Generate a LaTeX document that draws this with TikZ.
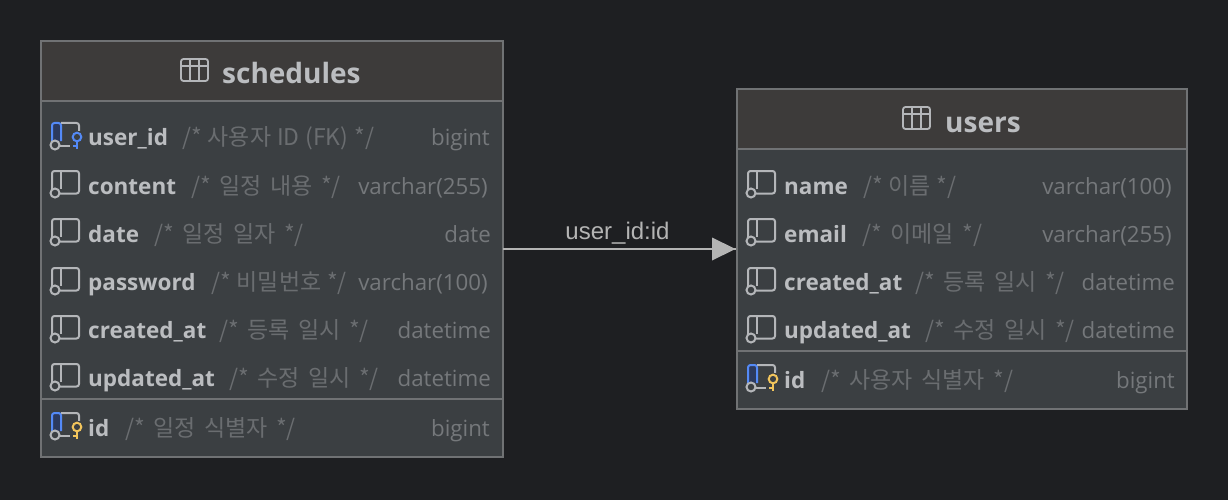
\documentclass[tikz,border=0pt]{standalone}
\usepackage{fontspec}
\setmainfont{Open Sans}
\newfontfamily\cjkfont[WordSpace=1.65]{Noto Sans CJK KR}
\newfontfamily\cjktight[WordSpace=1.15,Scale=0.998]{Noto Sans CJK KR}
\newfontfamily\labelfont{Liberation Sans}
\definecolor{bgc}{HTML}{1E1F22}
\definecolor{bodyc}{HTML}{3B3F42}
\definecolor{headc}{HTML}{3D3B3A}
\definecolor{borderc}{HTML}{707274}
\definecolor{namec}{HTML}{BBBDC0}
\definecolor{commc}{HTML}{6A6D70}
\definecolor{typec}{HTML}{75787B}
\definecolor{iconc}{HTML}{B4B6B9}
\definecolor{bluec}{HTML}{548AF7}
\definecolor{bluefill}{HTML}{2C3A5E}
\definecolor{yellowc}{HTML}{F2C55C}
\definecolor{edgec}{HTML}{B4B4B4}
\tikzset{
  x=1pt,y=-1pt,
  tablebox/.style={draw=borderc,line width=1.2pt,fill=bodyc,inner sep=0pt,minimum width=#1,outer sep=0pt},
  rowrule/.style={draw=borderc,line width=2pt},
  titletext/.style={anchor=base west,inner sep=0pt,text=namec,font=\fontsize{28}{28}\selectfont\bfseries},
  nametext/.style={anchor=base west,inner sep=0pt,text=namec,font=\fontsize{22.5}{22.5}\selectfont\bfseries},
  commtext/.style={anchor=base west,inner sep=0pt,text=commc,font=\fontsize{23}{23}\selectfont\cjkfont},
  typetext/.style={anchor=base east,inner sep=0pt,text=typec,font=\fontsize{22.3}{22.3}\selectfont},
  edgetext/.style={anchor=base,inner sep=0pt,text=edgec,font=\fontsize{24}{24}\selectfont\labelfont},
  iconline/.style={draw=iconc,line width=2pt},
}
% column icon: #1 left x, #2 row centre y
\newcommand{\colicon}[2]{%
  \draw[iconline,rounded corners=2.5pt] (#1+1,#2+4) -- (#1+1,#2-14) -- (#1+28,#2-14) -- (#1+28,#2+8.5) -- (#1+9,#2+8.5);
  \draw[iconline] (#1+10,#2-14) -- (#1+10,#2+4);
  \draw[iconline,fill=bodyc] (#1+4,#2+8) circle[radius=4.5];
}
\newcommand{\keyicon}[3]{% #1 left x, #2 row y, #3 colour
  \fill[bodyc] (#1+19,#2-6) rectangle (#1+32,#2+13);
  \draw[#3,line width=2pt] (#1+26,#2+4) -- (#1+26,#2+12) (#1+26,#2+8.5) -- (#1+22,#2+8.5);
  \draw[#3,line width=2pt,fill=bodyc] (#1+26,#2) circle[radius=4.3];
}
\newcommand{\pkblue}[2]{%
  \fill[bluefill] (#1+1,#2-14) rectangle (#1+10,#2+4);
  \draw[bluec,line width=2pt,rounded corners=2.5pt] (#1+1,#2+4) -- (#1+1,#2-14) -- (#1+10,#2-14) -- (#1+10,#2+4);
  \draw[iconline,rounded corners=2.5pt] (#1+10,#2-14) -- (#1+28,#2-14) -- (#1+28,#2-3);
  \draw[iconline] (#1+9,#2+8.5) -- (#1+20,#2+8.5);
  \draw[iconline,fill=bodyc] (#1+4,#2+8) circle[radius=4.5];
}
\newcommand{\tableicon}[2]{%
  \draw[iconline,line width=1.8pt,rounded corners=2.5pt] (#1,#2) rectangle (#1+27,#2+22);
  \draw[iconline,line width=1.8pt] (#1,#2+7) -- (#1+27,#2+7) (#1+9,#2) -- (#1+9,#2+22) (#1+18,#2) -- (#1+18,#2+22);
}
% row: node prefix, y, name, comment x, comment, type right x, type, name x
\newcommand{\fieldrow}[8]{%
  \node[nametext] (#1n) at (#8,#2+9) {#3};
  \node[commtext] (#1c) at (#4,#2+9) {#5};
  \node[typetext] (#1t) at (#6,#2+9) {#7};
}
\begin{document}
\begin{tikzpicture}
\useasboundingbox (0,0) rectangle (1228,500);
\fill[bgc] (0,0) rectangle (1228,500);

% schedules
\node[tablebox=462pt,minimum height=416pt,anchor=north west] (schedules) at (41,41) {};
\fill[headc] (41.6,41.6) rectangle (502.4,100);
\draw[rowrule] (41,101) -- (503,101);
\draw[rowrule] (41,399) -- (503,399);
\tableicon{181}{59}
\node[titletext] (schedulesT) at (222,84) {schedules};

\colicon{51}{185}\colicon{51}{233}\colicon{51}{282}\colicon{51}{330}\colicon{51}{378}
\pkblue{51}{137}\keyicon{51}{137}{bluec}
\pkblue{51}{427}\keyicon{51}{427}{yellowc}

\fieldrow{sa}{137}{user\_id}{182}{\cjktight /* 사용자 ID (FK) */}{490}{bigint}{88}
\fieldrow{sb}{185}{content}{191}{/* 일정 내용 */}{488}{varchar(255)}{88}
\fieldrow{sc}{233}{date}{154}{/* 일정 일자 */}{491}{date}{88}
\fieldrow{sd}{281.5}{password}{211}{\cjktight /* 비밀번호 */}{488}{varchar(100)}{88}
\fieldrow{se}{329.5}{created\_at}{219}{/* 등록 일시 */}{491}{datetime}{88}
\fieldrow{sf}{377.5}{updated\_at}{229}{/* 수정 일시 */}{491}{datetime}{88}
\fieldrow{sg}{427.5}{id}{125}{/* 일정 식별자 */}{490}{bigint}{88}

% users
\node[tablebox=450pt,minimum height=320pt,anchor=north west] (users) at (737,89) {};
\fill[headc] (737.6,89.6) rectangle (1186.4,148);
\draw[rowrule] (737,149) -- (1187,149);
\draw[rowrule] (737,351) -- (1187,351);
\tableicon{903}{107}
\node[titletext] (usersT) at (945,132) {users};

\colicon{747}{185}\colicon{747}{233}\colicon{747}{282}\colicon{747}{330}
\pkblue{747}{379}\keyicon{747}{379}{yellowc}

\fieldrow{ua}{185}{name}{863}{\cjktight /* 이름 */}{1172}{varchar(100)}{784}
\fieldrow{ub}{233}{email}{862}{/* 이메일 */}{1172}{varchar(255)}{784}
\fieldrow{uc}{281.5}{created\_at}{915}{/* 등록 일시 */}{1175}{datetime}{784}
\fieldrow{ud}{329.5}{updated\_at}{925}{/* 수정 일시 */}{1175}{datetime}{784}
\fieldrow{ue}{379.5}{id}{821}{/* 사용자 식별자 */}{1175}{bigint}{784}

% connector
\coordinate (from) at (schedules.east |- 0,249);
\coordinate (to) at (users.west |- 0,249);
\draw[edgec,line width=2pt,shorten >=1.5pt] (from) -- (to);
\fill[edgec] (712,237.5) -- (735.5,249) -- (712,260.5) -- cycle;
\node[edgetext] (edgeL) at (617.5,239) {user\_id:id};
\end{tikzpicture}
\end{document}
